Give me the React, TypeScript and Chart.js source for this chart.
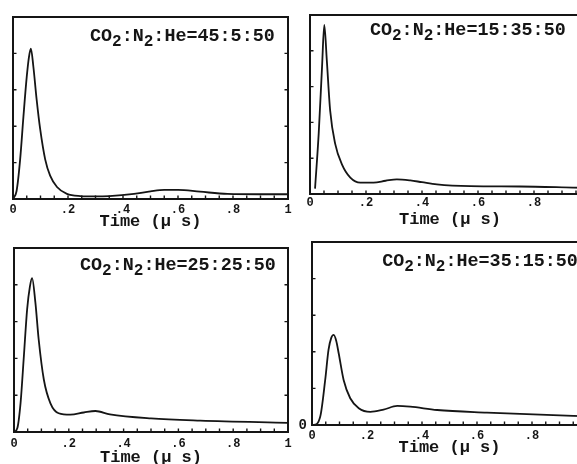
import React, { useEffect, useRef } from "react";
import { Chart, registerables } from "chart.js";

Chart.register(...registerables);

const FONT = "'Liberation Mono', 'DejaVu Sans Mono', monospace";
const INK = "#151515";
const CANVAS_W = 620;
const CANVAS_H = 464;

// tick labels
const xTickValues = [0, 0.2, 0.4, 0.6, 0.8, 1];
const xTickLabels = ["0", ".2", ".4", ".6", ".8", "1"];
const axisTitle = "Time (\u03bc s)";

// mixtures (CO2:N2:He)
const mixtureRatios = ["45:5:50", "15:35:50", "25:25:50", "35:15:50"];

// panel 1 : CO2:N2:He = 45:5:50
const p1Time = [0, 0.013, 0.026, 0.038, 0.05, 0.058, 0.065, 0.074, 0.086, 0.099, 0.117, 0.135, 0.16, 0.196, 0.245, 0.3, 0.35, 0.44, 0.5, 0.55, 0.6, 0.68, 0.78, 0.9, 1.0];
const p1Signal = [0, 0.22, 1.09, 2.27, 3.36, 3.9, 4.13, 3.64, 2.73, 1.91, 1.09, 0.64, 0.33, 0.14, 0.08, 0.07, 0.08, 0.14, 0.21, 0.25, 0.25, 0.2, 0.14, 0.13, 0.13];

// panel 2 : CO2:N2:He = 15:35:50
const p2Time = [0.018, 0.031, 0.043, 0.051, 0.06, 0.072, 0.09, 0.114, 0.144, 0.18, 0.227, 0.27, 0.31, 0.358, 0.4, 0.453, 0.572, 0.75, 0.94, 1.0];
const p2Signal = [0.15, 1.68, 3.55, 4.72, 3.74, 2.33, 1.4, 0.83, 0.46, 0.32, 0.32, 0.37, 0.41, 0.38, 0.33, 0.27, 0.22, 0.21, 0.18, 0.17];

// panel 3 : CO2:N2:He = 25:25:50
const p3Time = [0, 0.012, 0.024, 0.036, 0.048, 0.058, 0.066, 0.078, 0.09, 0.109, 0.133, 0.163, 0.206, 0.255, 0.297, 0.35, 0.5, 0.68, 1.0];
const p3Signal = [0, 0.1, 0.79, 2.06, 3.34, 3.95, 4.18, 3.52, 2.52, 1.42, 0.78, 0.51, 0.47, 0.53, 0.57, 0.48, 0.37, 0.31, 0.25];

// panel 4 : CO2:N2:He = 35:15:50
const p4Time = [0, 0.006, 0.03, 0.048, 0.06, 0.07, 0.079, 0.088, 0.097, 0.115, 0.139, 0.17, 0.212, 0.26, 0.31, 0.357, 0.455, 0.636, 0.95, 1.0];
const p4Signal = [0, 0, 0.23, 1.23, 2.05, 2.38, 2.46, 2.3, 1.96, 1.23, 0.73, 0.46, 0.36, 0.42, 0.52, 0.5, 0.41, 0.34, 0.25, 0.24];

type PanelCfg = {
  time: number[];
  signal: number[];
  ratio: string;
  area: { left: number; top: number; right: number; bottom: number };
  tickGap: number;
  titleGap: number;
  noteX: number;
  noteY: number;
  zeroLabel: boolean;
};

const panels: PanelCfg[] = [
  { time: p1Time, signal: p1Signal, ratio: mixtureRatios[0], area: { left: 13, top: 17, right: 288, bottom: 199 }, tickGap: 4, titleGap: 23, noteX: 0.28, noteY: 4.34, zeroLabel: false },
  { time: p2Time, signal: p2Signal, ratio: mixtureRatios[1], area: { left: 310, top: 15, right: 590, bottom: 194 }, tickGap: 2, titleGap: 26, noteX: 0.214, noteY: 4.44, zeroLabel: false },
  { time: p3Time, signal: p3Signal, ratio: mixtureRatios[2], area: { left: 14, top: 248, right: 288, bottom: 432 }, tickGap: 5, titleGap: 26, noteX: 0.241, noteY: 4.4, zeroLabel: false },
  { time: p4Time, signal: p4Signal, ratio: mixtureRatios[3], area: { left: 312, top: 242, right: 587, bottom: 425 }, tickGap: 4, titleGap: 23, noteX: 0.255, noteY: 4.34, zeroLabel: true },
];

function Panel({ cfg }: { cfg: PanelCfg }) {
  const ref = useRef<HTMLCanvasElement>(null);

  useEffect(() => {
    const canvas = ref.current;
    if (!canvas) return;
    const a = cfg.area;
    const titleSize = 17;
    const xAxisH = cfg.titleGap + (titleSize * 1.2) / 2;
    const yAxisW = cfg.zeroLabel ? 20 : 0;

    const innerTicks = {
      id: "innerTicks",
      afterDraw(chart: any) {
        const { ctx, chartArea } = chart;
        const xs = chart.scales.x;
        const ys = chart.scales.y;
        ctx.save();
        ctx.strokeStyle = INK;
        ctx.lineWidth = 1.4;
        ctx.beginPath();
        xs.ticks.forEach((t: any) => {
          const px = xs.getPixelForValue(t.value);
          if (px <= chartArea.left + 2 || px >= chartArea.right - 2) return;
          ctx.moveTo(px, chartArea.bottom);
          ctx.lineTo(px, chartArea.bottom - 3.5);
        });
        ys.ticks.forEach((t: any) => {
          const py = ys.getPixelForValue(t.value);
          if (py <= chartArea.top + 2 || py >= chartArea.bottom - 2) return;
          ctx.moveTo(chartArea.left, py);
          ctx.lineTo(chartArea.left + 3.5, py);
          ctx.moveTo(chartArea.right, py);
          ctx.lineTo(chartArea.right - 3.5, py);
        });
        ctx.stroke();
        ctx.restore();
      },
    };

    const note = {
      id: "note",
      afterDraw(chart: any) {
        const { ctx } = chart;
        const x0 = chart.scales.x.getPixelForValue(cfg.noteX);
        const y0 = chart.scales.y.getPixelForValue(cfg.noteY);
        const parts: [string, boolean][] = [
          ["CO", false],
          ["2", true],
          [":N", false],
          ["2", true],
          [":He=" + cfg.ratio, false],
        ];
        ctx.save();
        ctx.fillStyle = INK;
        ctx.textBaseline = "alphabetic";
        ctx.textAlign = "left";
        let x = x0;
        parts.forEach(([txt, sub]) => {
          ctx.font = sub ? `bold 16px ${FONT}` : `bold 18.4px ${FONT}`;
          ctx.fillText(txt, x, sub ? y0 + 5 : y0);
          x += ctx.measureText(txt).width;
        });
        ctx.restore();
      },
    };

    const axisFont = { family: FONT, size: 12, weight: "bold" as const };

    const chart = new Chart(canvas, {
      type: "line",
      data: {
        datasets: [
          {
            data: cfg.time.map((t, i) => ({ x: t, y: cfg.signal[i] })),
            borderColor: INK,
            borderWidth: 1.8,
            pointRadius: 0,
            fill: false,
            cubicInterpolationMode: "monotone",
          },
        ],
      },
      options: {
        responsive: false,
        animation: false,
        events: [],
        layout: {
          autoPadding: false,
          padding: {
            left: a.left - yAxisW,
            top: a.top,
            right: CANVAS_W - a.right,
            bottom: CANVAS_H - a.bottom - xAxisH,
          },
        },
        plugins: { legend: { display: false }, tooltip: { enabled: false } },
        scales: {
          x: {
            type: "linear",
            position: "bottom",
            min: 0,
            max: 1,
            afterFit: (s: any) => {
              s.height = xAxisH;
            },
            grid: { display: false, drawTicks: false },
            border: { display: true, color: INK, width: 2 },
            ticks: {
              stepSize: 0.05,
              autoSkip: false,
              maxRotation: 0,
              padding: cfg.tickGap,
              color: INK,
              font: axisFont,
              callback: (v: any) => {
                const idx = xTickValues.findIndex((tv) => Math.abs(tv - Number(v)) < 1e-6);
                return idx >= 0 ? xTickLabels[idx] : "";
              },
            },
            title: {
              display: true,
              text: axisTitle,
              color: INK,
              padding: 0,
              font: { family: FONT, size: titleSize, weight: "bold" },
            },
          },
          y: {
            type: "linear",
            position: "left",
            min: 0,
            max: 5,
            afterFit: (s: any) => {
              s.width = yAxisW;
            },
            grid: { display: false, drawTicks: false },
            border: { display: true, color: INK, width: 2 },
            ticks: {
              stepSize: 1,
              padding: 5,
              color: INK,
              font: { family: FONT, size: 14, weight: "bold" },
              callback: (v: any) => (cfg.zeroLabel && Number(v) === 0 ? "0" : ""),
            },
          },
          x2: {
            type: "linear",
            position: "top",
            min: 0,
            max: 1,
            afterFit: (s: any) => {
              s.height = 0;
            },
            grid: { display: false, drawTicks: false },
            border: { display: true, color: INK, width: 2 },
            ticks: { display: false },
          },
          y2: {
            type: "linear",
            position: "right",
            min: 0,
            max: 5,
            afterFit: (s: any) => {
              s.width = 0;
            },
            grid: { display: false, drawTicks: false },
            border: { display: true, color: INK, width: 2 },
            ticks: { display: false },
          },
        },
      } as any,
      plugins: [innerTicks, note],
    });

    return () => chart.destroy();
  }, [cfg]);

  return (
    <canvas
      ref={ref}
      width={CANVAS_W}
      height={CANVAS_H}
      style={{ position: "absolute", left: 0, top: 0, width: CANVAS_W, height: CANVAS_H }}
    />
  );
}

export default function App() {
  return (
    <div
      style={{
        position: "fixed",
        left: 0,
        top: 0,
        width: 577,
        height: 464,
        overflow: "hidden",
        background: "#ffffff",
      }}
    >
      {panels.map((p, i) => (
        <Panel key={i} cfg={p} />
      ))}
    </div>
  );
}
